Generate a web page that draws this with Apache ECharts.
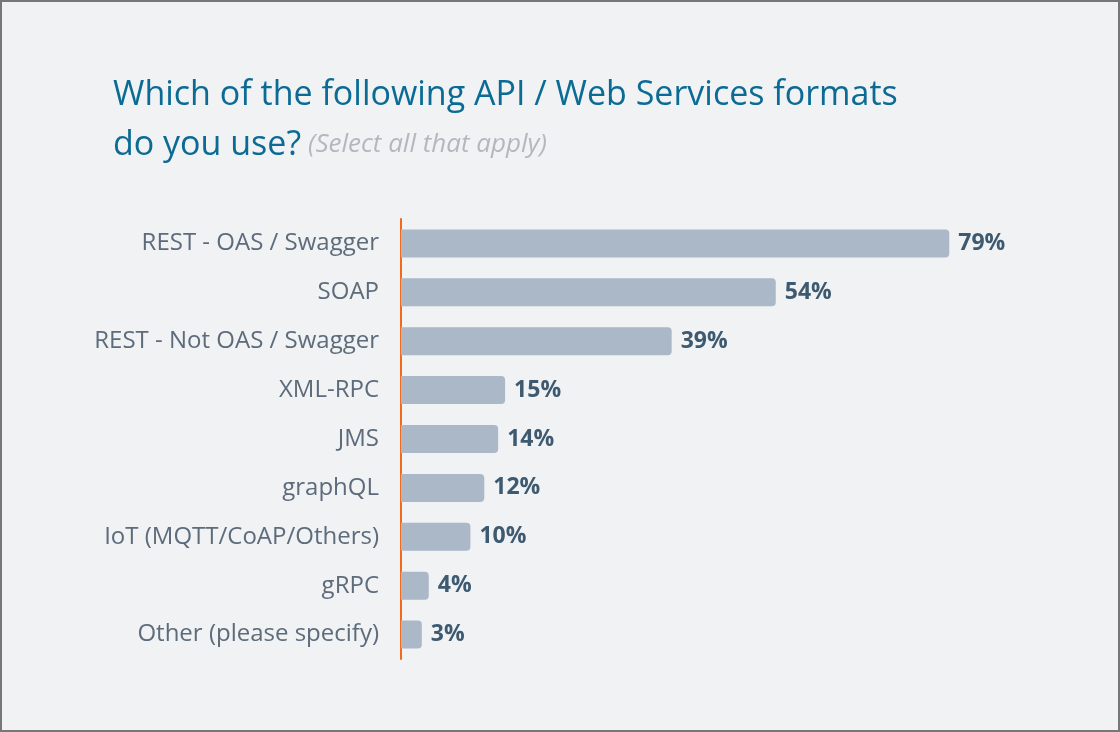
<!DOCTYPE html>
<html><head><meta charset="utf-8">
<script src="https://cdn.jsdelivr.net/npm/echarts@6/dist/echarts.min.js"></script>
<style>
html,body{margin:0;padding:0;background:#f0f2f4;}
#c{width:1116px;height:728px;border:2px solid #777;background:#f0f2f4;}
</style></head><body>
<div id="c"></div>
<script>
const categories = ["REST - OAS / Swagger","SOAP","REST - Not OAS / Swagger","XML-RPC","JMS","graphQL","IoT (MQTT/CoAP/Others)","gRPC","Other (please specify)"];
const values = [79,54,39,15,14,12,10,4,3];
const titleLine1 = "Which of the following API / Web Services formats";
const titleLine2 = "do you use?";
const subtitleText = "(Select all that apply)";

const chart = echarts.init(document.getElementById('c'));
chart.setOption({
  backgroundColor: '#f0f2f4',
  animation: false,
  title: {
    left: 106, top: 63,
    text: '{a|' + titleLine1 + '}\n{a|' + titleLine2 + '} {b|' + subtitleText + '}',
    textStyle: {
      fontWeight: 'normal',
      rich: {
        a: {fontFamily: 'Open Sans', fontSize: 34, fontWeight: 'normal', color: '#0b6b94', lineHeight: 50},
        b: {fontFamily: 'Open Sans', fontSize: 26, fontWeight: 'normal', fontStyle: 'italic', color: '#b3b8bf', lineHeight: 50, padding: [0, 0, 0, 2]}
      }
    }
  },
  grid: {left: 399, right: 23, top: 217, bottom: 71, containLabel: false},
  xAxis: {type: 'value', min: 0, max: 100, show: false},
  yAxis: {
    type: 'category', data: categories, inverse: true,
    axisLine: {show: true, lineStyle: {color: '#f26b1d', width: 2}},
    axisTick: {show: false},
    axisLabel: {fontFamily: 'Open Sans', fontSize: 24, color: '#5d6b7b', margin: 22}
  },
  series: [{
    type: 'bar', data: values, barWidth: 28,
    itemStyle: {color: '#abb8c7', borderRadius: [0, 4, 4, 0]},
    label: {show: true, position: 'right', distance: 9, formatter: '{c}%',
      fontFamily: 'Open Sans', fontSize: 23, fontWeight: 'bold', color: '#3e5a70'}
  }]
});
</script></body></html>
